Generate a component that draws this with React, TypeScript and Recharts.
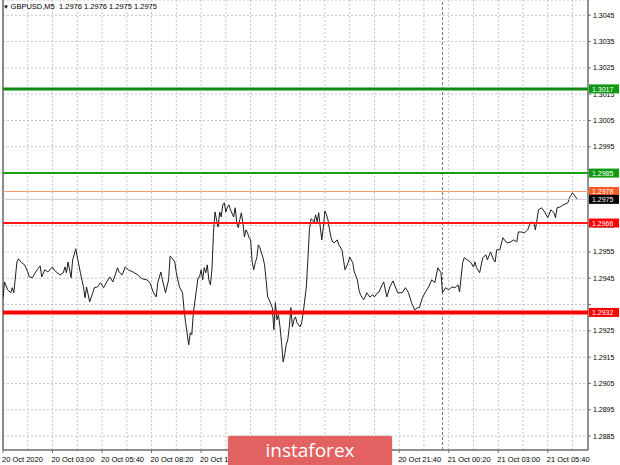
import React from 'react';
import { ComposedChart, Line, XAxis, YAxis, CartesianGrid, ReferenceLine } from 'recharts';

// bar index (M5 bars counted from 20 Oct 00:20)
const barIndex = [
  0, 1, 3, 5, 6, 7, 9, 10, 12, 14, 16, 17, 19, 20, 22, 24, 25, 27, 29, 32,
  33, 35, 37, 39, 40, 41, 42, 44, 45, 47, 48, 50, 52, 53, 54, 56, 58, 59, 61, 63,
  65, 67, 69, 71, 74, 75, 77, 79, 81, 84, 87, 89, 90, 93, 95, 97, 99, 100, 102, 103,
  105, 107, 108, 109, 111, 112, 114, 116, 117, 118, 120, 121, 122, 123, 125, 126, 127, 128, 129, 130,
  131, 132, 133, 134, 135, 136, 137, 138, 139, 140, 141, 142, 143, 144, 145, 146, 147, 149, 150, 151,
  152, 153, 154, 155, 156, 157, 158, 159, 160, 161, 162, 163, 164, 165, 166, 168, 169, 170, 171, 172,
  174, 175, 176, 177, 178, 179, 180, 181, 182, 183, 184, 185, 186, 187, 188, 189, 190, 192, 193, 194,
  196, 197, 198, 199, 200, 201, 202, 203, 204, 205, 206, 207, 208, 209, 210, 211, 212, 213, 214, 216,
  217, 219, 220, 221, 223, 224, 226, 227, 229, 230, 231, 233, 234, 235, 237, 239, 240, 242, 243, 245,
  246, 248, 250, 252, 255, 258, 260, 262, 264, 266, 268, 269, 271, 273, 275, 277, 279, 281, 283, 284,
  286, 288, 290, 292, 294, 295, 297, 298, 300, 302, 304, 305, 306, 308, 310, 312, 313, 315, 317, 318,
  319, 321, 323, 325, 326, 328, 330, 332, 333, 335, 337, 339, 341, 343, 344, 346, 348, 350, 352, 354,
  356, 357, 358, 360, 362, 365, 366, 368, 369, 370, 371,
];

// close price of GBPUSD M5
const closePrice = [
  1.29376, 1.29436, 1.29406, 1.29395, 1.29414, 1.29395, 1.29512, 1.29524, 1.29509, 1.29501,
  1.29474, 1.29455, 1.29452, 1.29463, 1.29482, 1.29497, 1.29455, 1.29482, 1.29474, 1.29493,
  1.29482, 1.29471, 1.29463, 1.29471, 1.29493, 1.29471, 1.29512, 1.29452, 1.29520, 1.29562,
  1.29531, 1.29471, 1.29417, 1.29376, 1.29417, 1.29360, 1.29395, 1.29414, 1.29417, 1.29433,
  1.29414, 1.29436, 1.29455, 1.29436, 1.29490, 1.29474, 1.29463, 1.29493, 1.29482, 1.29474,
  1.29463, 1.29452, 1.29448, 1.29444, 1.29433, 1.29398, 1.29379, 1.29433, 1.29474, 1.29444,
  1.29395, 1.29444, 1.29535, 1.29528, 1.29512, 1.29471, 1.29417, 1.29395, 1.29330, 1.29281,
  1.29197, 1.29243, 1.29235, 1.29319, 1.29406, 1.29452, 1.29455, 1.29482, 1.29444, 1.29490,
  1.29471, 1.29501, 1.29444, 1.29425, 1.29482, 1.29623, 1.29702, 1.29672, 1.29645, 1.29702,
  1.29683, 1.29729, 1.29737, 1.29702, 1.29721, 1.29729, 1.29710, 1.29683, 1.29718, 1.29664,
  1.29642, 1.29672, 1.29699, 1.29661, 1.29607, 1.29634, 1.29623, 1.29604, 1.29596, 1.29512,
  1.29482, 1.29509, 1.29528, 1.29577, 1.29566, 1.29528, 1.29501, 1.29444, 1.29379, 1.29368,
  1.29338, 1.29254, 1.29357, 1.29292, 1.29311, 1.29265, 1.29205, 1.29132, 1.29159, 1.29197,
  1.29216, 1.29265, 1.29338, 1.29265, 1.29292, 1.29303, 1.29281, 1.29265, 1.29281, 1.29319,
  1.29417, 1.29520, 1.29634, 1.29676, 1.29672, 1.29664, 1.29691, 1.29664, 1.29699, 1.29645,
  1.29596, 1.29645, 1.29706, 1.29691, 1.29672, 1.29634, 1.29604, 1.29588, 1.29585, 1.29596,
  1.29577, 1.29558, 1.29520, 1.29482, 1.29509, 1.29531, 1.29509, 1.29474, 1.29444, 1.29406,
  1.29387, 1.29368, 1.29379, 1.29395, 1.29379, 1.29387, 1.29379, 1.29395, 1.29398, 1.29425,
  1.29436, 1.29379, 1.29417, 1.29440, 1.29395, 1.29395, 1.29414, 1.29395, 1.29357, 1.29330,
  1.29338, 1.29338, 1.29376, 1.29398, 1.29417, 1.29444, 1.29433, 1.29490, 1.29471, 1.29395,
  1.29414, 1.29406, 1.29417, 1.29414, 1.29425, 1.29398, 1.29509, 1.29528, 1.29520, 1.29512,
  1.29493, 1.29512, 1.29490, 1.29471, 1.29528, 1.29539, 1.29520, 1.29550, 1.29520, 1.29512,
  1.29558, 1.29558, 1.29604, 1.29588, 1.29585, 1.29588, 1.29596, 1.29588, 1.29626, 1.29626,
  1.29623, 1.29634, 1.29664, 1.29661, 1.29634, 1.29710, 1.29718, 1.29702, 1.29680, 1.29710,
  1.29699, 1.29680, 1.29718, 1.29721, 1.29729, 1.29737, 1.29756, 1.29775, 1.29767, 1.29759,
  1.29750,
];

const gridBars = [0, 16, 32, 48, 64, 80, 96, 112, 128, 144, 160, 176, 192, 208, 224, 240, 256, 272, 288, 304, 320, 336, 352, 368];
const labelBars = [0, 32, 64, 96, 128, 160, 192, 224, 256, 288, 320, 352];
const timeLabels = [
  '20 Oct 2020', '20 Oct 03:00', '20 Oct 05:40', '20 Oct 08:20', '20 Oct 11:00', '20 Oct 13:40',
  '20 Oct 16:20', '20 Oct 19:00', '20 Oct 21:40', '21 Oct 00:20', '21 Oct 03:00', '21 Oct 05:40',
];
const priceTicks = [
  1.2885, 1.2895, 1.2905, 1.2915, 1.2925, 1.2935, 1.2945, 1.2955, 1.2965,
  1.2975, 1.2985, 1.2995, 1.3005, 1.3015, 1.3025, 1.3035, 1.3045,
];
const priceDomain = [1.28797, 1.30508];
const daySeparatorBar = 284;

const levelValues = [1.3017, 1.2985, 1.2978, 1.2975, 1.2966, 1.2932];
const levelLineColors = ['#118a11', '#14a014', '#f59a6e', '#cfcfe0', '#ff1a1a', '#ff0000'];
const levelTagColors = ['#119a11', '#119a11', '#ff5a28', '#000000', '#ff0000', '#ff0000'];
const levelWidths = [3, 2, 1, 1, 2, 4];

const headerText = 'GBPUSD,M5  1.2976 1.2976 1.2975 1.2975';

const data = barIndex.map((b, i) => ({ b, p: closePrice[i] }));

const FONT = '"Liberation Sans", Arial, sans-serif';
const PLOT_HEIGHT = 450;
const TAG_HALF = 4.5;

function PriceTag(props: any) {
  const { viewBox, fill, text } = props;
  if (!viewBox) return null;
  const x = viewBox.x + viewBox.width + 1;
  const y = viewBox.y;
  return (
    <g>
      <rect x={x} y={y - TAG_HALF} width={30} height={TAG_HALF * 2} fill={fill} />
      <text x={x + 3} y={y + 2.7} fill="#ffffff" fontSize={7} fontFamily={FONT}>
        {text}
      </text>
    </g>
  );
}

function TimeTick(props: any) {
  const { x, y, payload } = props;
  const idx = labelBars.indexOf(payload.value);
  if (idx < 0) return null;
  return (
    <g>
      <line x1={x} x2={x} y1={y} y2={y + 3} stroke="#707070" />
      <text x={x - 1} y={y + 11.5} textAnchor="start" fontSize={7.5} fontFamily={FONT} fill="#000">
        {timeLabels[idx]}
      </text>
    </g>
  );
}

function PriceTick(props: any) {
  const { x, y, payload, index } = props;
  const v = payload.value;
  const pxPerUnit = PLOT_HEIGHT / (priceDomain[1] - priceDomain[0]);
  // portion of the label hidden under a price tag (tag sits above in the original)
  let clipTop = -Infinity;
  levelValues.forEach((lv) => {
    const ly = y - (lv - v) * pxPerUnit;
    if (Math.abs(ly - y) < 9) {
      clipTop = Math.max(clipTop, ly + TAG_HALF);
    }
  });
  const label = (
    <text x={x} y={y + 2.5} textAnchor="start" fontSize={7} fontFamily={FONT} fill="#000">
      {v.toFixed(4)}
    </text>
  );
  if (clipTop === -Infinity) return label;
  const id = `ptclip-${index}`;
  return (
    <g>
      <defs>
        <clipPath id={id}>
          <rect x={x - 2} y={clipTop} width={40} height={20} />
        </clipPath>
      </defs>
      <g clipPath={`url(#${id})`}>{label}</g>
    </g>
  );
}

export default function App() {
  return (
    <div style={{ position: 'fixed', left: 0, top: 0, width: 620, height: 465, background: '#fff', overflow: 'hidden' }}>
      <ComposedChart width={620} height={465} data={data} margin={{ top: 0, right: 0, bottom: 0, left: 3 }}>
        <CartesianGrid stroke="#c4c4c4" strokeDasharray="2 2" />
        <XAxis
          dataKey="b"
          type="number"
          domain={[0, 378]}
          ticks={gridBars}
          interval={0}
          height={15}
          tickSize={0}
          tickMargin={0}
          tickLine={false}
          axisLine={{ stroke: '#707070', strokeWidth: 1.5 }}
          tick={<TimeTick />}
          allowDataOverflow
        />
        <YAxis
          orientation="right"
          type="number"
          domain={priceDomain}
          ticks={priceTicks}
          interval={0}
          width={32}
          tickSize={3}
          tickMargin={2}
          allowDataOverflow
          axisLine={{ stroke: '#707070', strokeWidth: 1.5 }}
          tickLine={{ stroke: '#707070' }}
          tick={<PriceTick />}
        />
        <ReferenceLine x={0} stroke="#8a8a8a" strokeWidth={2} ifOverflow="extendDomain" />
        <ReferenceLine x={daySeparatorBar} stroke="#7a7a7a" strokeDasharray="3 2" />
        <Line
          type="linear"
          dataKey="p"
          stroke="#1e1e1e"
          strokeWidth={1}
          dot={false}
          isAnimationActive={false}
        />
        {levelValues.map((v, i) => (
          <ReferenceLine
            key={v}
            y={v}
            stroke={levelLineColors[i]}
            strokeWidth={levelWidths[i]}
            zIndex={1500}
            label={<PriceTag fill={levelTagColors[i]} text={v.toFixed(4)} />}
          />
        ))}
      </ComposedChart>
      <div style={{ position: 'absolute', left: 3, top: 2, fontFamily: FONT, fontSize: 7.5, color: '#000', whiteSpace: 'pre', lineHeight: '10px' }}>
        <span style={{ fontSize: 6 }}>▼ </span>{headerText}
      </div>
      <div
        style={{
          position: 'absolute',
          left: 228,
          top: 436,
          width: 164,
          height: 30,
          background: '#e26262',
          borderRadius: 2,
          boxShadow: '0 0 2px rgba(0,0,0,0.25)',
          color: '#fff',
          fontFamily: '"Open Sans", sans-serif',
          fontSize: 19,
          lineHeight: '28px',
          textAlign: 'center',
        }}
      >
        instaforex
      </div>
    </div>
  );
}
